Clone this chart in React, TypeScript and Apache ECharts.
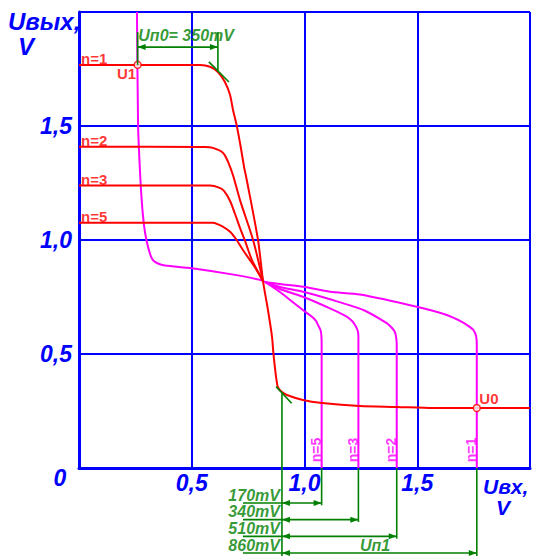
import { useEffect, useRef } from 'react';
import * as echarts from 'echarts';

const FONT = "'Liberation Sans', Arial, Helvetica, sans-serif";
const BLUE = '#0000ff';
const RED = '#ff0000';
const MAG = '#ff00ff';
const GREEN = '#008000';

// ---- data (volts) ----
const axisMax = 2.0;
const axisStep = 0.5;

// transfer characteristics (red) for n = 1, 2, 3, 5
const redN1: [number, number][] = [
  [0, 1.768], [0.537, 1.768], [0.581, 1.76], [0.616, 1.737], [0.647, 1.693], [0.67, 1.636],
  [0.683, 1.57], [0.699, 1.504], [0.717, 1.409], [0.732, 1.321], [0.744, 1.263], [0.794, 1.0],
  [0.816, 0.82], [0.838, 0.693], [0.856, 0.575], [0.862, 0.504], [0.874, 0.399], [0.882, 0.355],
  [0.9, 0.333], [0.922, 0.32], [0.993, 0.298], [1.078, 0.285], [1.246, 0.272], [1.41, 0.268],
  [1.57, 0.263], [1.765, 0.263], [2.0, 0.263],
];
const redN2: [number, number][] = [
  [0, 1.409], [0.559, 1.408], [0.594, 1.404], [0.639, 1.382], [0.661, 1.343], [0.683, 1.284],
  [0.714, 1.175], [0.772, 1.0], [0.816, 0.82],
];
const redN3: [number, number][] = [
  [0, 1.239], [0.581, 1.239], [0.621, 1.23], [0.643, 1.215], [0.67, 1.171], [0.692, 1.114],
  [0.714, 1.053], [0.736, 0.997], [0.767, 0.912], [0.816, 0.82],
];
const redN5: [number, number][] = [
  [0, 1.076], [0.594, 1.076], [0.639, 1.058], [0.67, 1.036], [0.699, 1.0], [0.727, 0.956],
  [0.758, 0.912], [0.788, 0.868], [0.816, 0.82],
];

// magenta: common part and branches for n = 1, 2, 3, 5
const magBase: [number, number][] = [
  [0.257, 2.0], [0.262, 1.504], [0.268, 1.351], [0.278, 1.175], [0.288, 1.066], [0.299, 1.0],
  [0.315, 0.939], [0.328, 0.912], [0.35, 0.897], [0.381, 0.888], [0.5, 0.876], [0.699, 0.846],
  [0.803, 0.825], [0.825, 0.816],
];
const magN1: [number, number][] = [
  [0.825, 0.816], [0.891, 0.807], [0.995, 0.795], [1.113, 0.773], [1.246, 0.761], [1.498, 0.707],
  [1.631, 0.671], [1.704, 0.638], [1.734, 0.618], [1.749, 0.605], [1.761, 0.579], [1.764, 0.539],
  [1.764, 0],
];
const magN2: [number, number][] = [
  [0.825, 0.816], [0.891, 0.794], [0.993, 0.773], [1.113, 0.74], [1.261, 0.693], [1.365, 0.635],
  [1.388, 0.614], [1.401, 0.596], [1.407, 0.57], [1.409, 0.539], [1.409, 0],
];
const magN3: [number, number][] = [
  [0.825, 0.816], [0.891, 0.785], [0.993, 0.751], [1.113, 0.7], [1.187, 0.664], [1.211, 0.645],
  [1.224, 0.627], [1.235, 0.605], [1.239, 0.579], [1.239, 0.539], [1.239, 0],
];
const magN5: [number, number][] = [
  [0.825, 0.816], [0.891, 0.772], [0.936, 0.737], [0.993, 0.693], [1.032, 0.664], [1.051, 0.645],
  [1.06, 0.627], [1.071, 0.605], [1.075, 0.579], [1.076, 0.539], [1.076, 0],
];

const redCurves = [redN1, redN2, redN3, redN5];
const redNames = ['n=1', 'n=2', 'n=3', 'n=5'];
const magBranches = [magN5, magN3, magN2, magN1];
const magNames = ['n=5', 'n=3', 'n=2', 'n=1'];

// key points
const pointU1: [number, number] = [0.26, 1.768];
const pointU0: [number, number] = [1.764, 0.263];
const topKnee: [number, number] = [0.616, 1.737];
const bottomKnee: [number, number] = [0.9, 0.333];

// noise margins
const marginTopLabel = 'Uп0= 350mV';
const marginLabels = ['170mV', '340mV', '510mV', '860mV'];
const switchX = [1.076, 1.239, 1.409, 1.764];
const marginBottomName = 'Uп1';

// annotation rows (below the x axis, in volts)
const rowY0 = -0.1535;
const rowStep = -0.0731;

const fmt = (v: number) =>
  v === 0 || v === axisMax ? '' : v.toFixed(1).replace('.', ',');

type P = [number, number];

function buildOption(): any {
  const axisLabel = {
    formatter: fmt,
    color: BLUE,
    fontSize: 23,
    fontWeight: 'bold',
    fontStyle: 'italic',
    fontFamily: FONT,
  };
  const axisCommon = {
    type: 'value',
    min: 0,
    max: axisMax,
    interval: axisStep,
    axisTick: { show: false },
    axisLine: { show: true, onZero: false, lineStyle: { color: BLUE, width: 3 } },
    splitLine: { show: true, lineStyle: { color: BLUE, width: 2 } },
  };

  const lineBase = (data: P[], color: string, name: string) => ({
    type: 'line',
    name,
    data,
    smooth: 0.25,
    symbol: 'none',
    clip: false,
    silent: true,
    lineStyle: { color, width: 2 },
  });

  const series: any[] = [];
  series.push(lineBase(magBase, MAG, 'base'));
  magBranches.forEach((d, i) => series.push(lineBase(d, MAG, 'mag ' + magNames[i])));
  redCurves.forEach((d, i) => series.push(lineBase(d, RED, 'red ' + redNames[i])));

  series.push({
    type: 'scatter',
    data: [pointU1, pointU0],
    symbol: 'circle',
    symbolSize: 7,
    clip: false,
    silent: true,
    itemStyle: { color: '#ffffff', borderColor: RED, borderWidth: 1.5 },
    z: 5,
  });

  const txt = (x: number, y: number, text: string, color: string, extra: any) => ({
    value: [x, y],
    label: {
      show: true,
      formatter: text,
      color,
      fontFamily: FONT,
      fontWeight: 'bold',
      fontSize: 14,
      ...extra,
    },
  });
  const texts: any[] = [];
  redCurves.forEach((d, i) =>
    texts.push(txt(0.009, d[0][1] + 0.027, redNames[i], RED, { position: 'right', distance: 0, fontSize: 15 }))
  );
  texts.push(txt(0.211, 1.732, 'U1', RED, { position: 'inside', fontSize: 15 }));
  texts.push(txt(1.818, 0.305, 'U0', RED, { position: 'inside', fontSize: 15 }));
  magNames.forEach((n, i) =>
    texts.push(txt(switchX[i] - 0.024, 0.079, n, MAG, { position: 'inside', rotate: 90, fontSize: 14 }))
  );
  texts.push(
    txt((pointU1[0] + topKnee[0]) / 2 + 0.037, 1.899, marginTopLabel, GREEN, {
      position: 'inside',
      fontStyle: 'italic',
      fontSize: 16,
    })
  );
  marginLabels.forEach((m, i) =>
    texts.push(
      txt(bottomKnee[0], rowY0 + rowStep * i + 0.035, m, GREEN, {
        position: 'left',
        distance: 2,
        fontStyle: 'italic',
        fontSize: 16,
      })
    )
  );
  texts.push(
    txt(1.313, rowY0 + rowStep * 3 + 0.031, marginBottomName, GREEN, {
      position: 'inside',
      fontStyle: 'italic',
      fontSize: 16,
    })
  );
  series.push({
    type: 'scatter',
    data: texts,
    symbolSize: 0,
    clip: false,
    silent: true,
    z: 6,
  });

  return {
    animation: false,
    backgroundColor: '#ffffff',
    grid: { left: 79, top: 12, width: 451, height: 456, containLabel: false },
    xAxis: { ...axisCommon, axisLabel: { ...axisLabel, margin: 3 } },
    yAxis: { ...axisCommon, axisLabel: { ...axisLabel, margin: 7 } },
    series,
  };
}

function buildGraphics(toPx: (p: P) => number[]): any[] {
  const titleStyle = (text: string, size = 24) => ({
    text,
    fill: BLUE,
    fontFamily: FONT,
    fontWeight: 'bold',
    fontStyle: 'italic',
    fontSize: size,
    lineHeight: size,
    align: 'left',
    verticalAlign: 'top',
  });
  const g: any[] = [
    { type: 'text', x: 8, y: 9, silent: true, style: titleStyle('Uвых,') },
    { type: 'text', x: 18, y: 34, silent: true, style: titleStyle('V') },
    { type: 'text', x: 483, y: 476, silent: true, style: titleStyle('Uвх,', 21) },
    { type: 'text', x: 496, y: 497, silent: true, style: titleStyle('V', 21) },
    {
      type: 'text',
      x: 60,
      y: 478,
      silent: true,
      style: { ...titleStyle('0', 23), align: 'center', verticalAlign: 'middle' },
    },
  ];

  const seg = (a: P, b: P) => {
    const [x1, y1] = toPx(a);
    const [x2, y2] = toPx(b);
    g.push({
      type: 'line',
      silent: true,
      z: 10,
      shape: { x1, y1, x2, y2 },
      style: { stroke: GREEN, lineWidth: 1.6 },
    });
  };
  const head = (tip: number[], from: number[]) => {
    const dx = tip[0] - from[0];
    const dy = tip[1] - from[1];
    const len = Math.hypot(dx, dy) || 1;
    const ux = dx / len;
    const uy = dy / len;
    const L = 8;
    const W = 3;
    const bx = tip[0] - ux * L;
    const by = tip[1] - uy * L;
    g.push({
      type: 'polygon',
      silent: true,
      z: 10,
      shape: {
        points: [
          [tip[0], tip[1]],
          [bx - uy * W, by + ux * W],
          [bx + uy * W, by - ux * W],
        ],
      },
      style: { fill: GREEN },
    });
  };
  const arrow = (a: P, b: P) => {
    seg(a, b);
    const pa = toPx(a);
    const pb = toPx(b);
    head(pa, pb);
    head(pb, pa);
  };

  // top margin
  const topArrowY = 1.846;
  const topLineTop = 1.912;
  seg([pointU1[0], topLineTop], pointU1);
  seg([topKnee[0], topLineTop], topKnee);
  arrow([pointU1[0], topArrowY], [topKnee[0], topArrowY]);
  seg([0.576, 1.781], [0.665, 1.693]);

  // bottom margins
  seg([0.874, 0.357], [0.943, 0.284]);
  const bottomEnd = rowY0 + rowStep * 3 - 0.016;
  seg(bottomKnee, [bottomKnee[0], bottomEnd]);
  switchX.forEach((sx, i) => {
    const y = rowY0 + rowStep * i;
    const yEnd = i === 3 ? bottomEnd : y - 0.01;
    seg([sx, 0], [sx, yEnd]);
    seg([0.727, y], [bottomKnee[0], y]);
    arrow([bottomKnee[0], y], [sx, y]);
  });
  return g;
}

export default function App() {
  const ref = useRef<HTMLDivElement>(null);
  useEffect(() => {
    if (!ref.current) return;
    const chart = echarts.init(ref.current, undefined, { renderer: 'svg' });
    chart.setOption(buildOption());
    const toPx = (p: P) => chart.convertToPixel({ gridIndex: 0 }, p) as number[];
    chart.setOption({ graphic: buildGraphics(toPx) });
    return () => chart.dispose();
  }, []);
  return (
    <div
      ref={ref}
      style={{ position: 'fixed', left: 0, top: 0, width: 534, height: 556, background: '#fff' }}
    />
  );
}
